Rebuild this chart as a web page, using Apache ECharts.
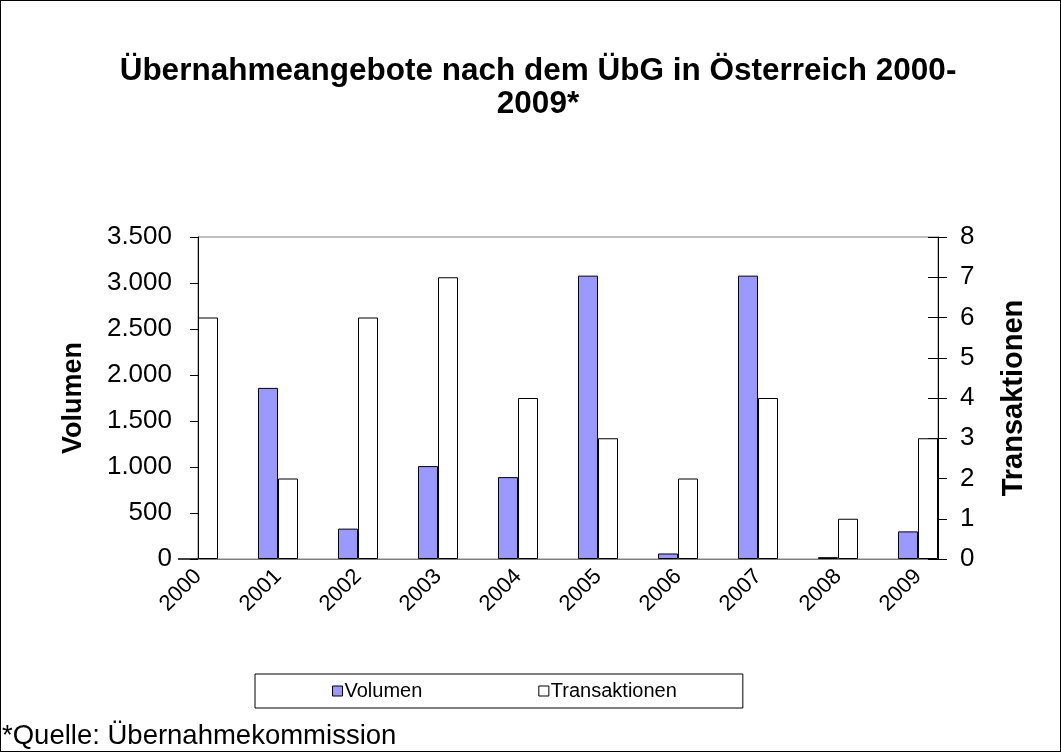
<!DOCTYPE html>
<html><head><meta charset="utf-8">
<script src="https://cdn.jsdelivr.net/npm/echarts@6/dist/echarts.min.js"></script>
<style>
html,body{margin:0;padding:0;background:#fff}
#wrap{position:relative;width:1061px;height:752px}
#c{width:1061px;height:752px}
#frame{position:absolute;left:0;top:0;width:1061px;height:752px;box-sizing:border-box;border:1px solid #000;pointer-events:none}
</style>
</head><body>
<div id="wrap"><div id="c"></div><div id="frame"></div></div>
<script>
const years = ['2000','2001','2002','2003','2004','2005','2006','2007','2008','2009'];
const volumen = [0, 1860, 330, 1010, 890, 3080, 60, 3080, 20, 300];
const transaktionen = [6, 2, 6, 7, 4, 3, 2, 4, 1, 3];
const titleText = 'Übernahmeangebote nach dem ÜbG in Österreich 2000-\n2009*';
const sourceText = '*Quelle: Übernahmekommission';
const seriesNames = ['Volumen', 'Transaktionen'];

const FONT = '"Liberation Sans", Arial, sans-serif';
const chart = echarts.init(document.getElementById('c'), null, {renderer: 'canvas'});

const xMin = Number(years[0]);
const xMax = Number(years[years.length - 1]) + 0.25;

function fmtThousands(v) {
  return String(v).replace(/\B(?=(\d{3})+(?!\d))/g, '.');
}

chart.setOption({
  animation: false,
  backgroundColor: '#fff',
  textStyle: {fontFamily: FONT},
  title: [
    {
      text: titleText, left: 538, top: 55, textAlign: 'center', padding: 0,
      textStyle: {fontFamily: FONT, fontSize: 31.5, fontWeight: 'bold', color: '#000', lineHeight: 33}
    },
    {
      text: sourceText, left: 2, top: 722, padding: 0,
      textStyle: {fontFamily: FONT, fontSize: 27.5, fontWeight: 'normal', color: '#000'}
    }
  ],
  legend: {
    left: 255, top: 674,
    borderColor: '#000', borderWidth: 1,
    padding: [7, 66, 7, 77],
    itemWidth: 10, itemHeight: 10, itemGap: 116,
    textStyle: {fontFamily: FONT, fontSize: 20, color: '#000', padding: [0, 0, 0, -3]},
    data: [
      {name: seriesNames[0], icon: 'rect', itemStyle: {color: '#9999ff', borderColor: '#000', borderWidth: 1}},
      {name: seriesNames[1], icon: 'rect', itemStyle: {color: '#fff', borderColor: '#000', borderWidth: 1}}
    ]
  },
  grid: {
    left: 198, right: 123, top: 237, bottom: 193,
    show: true, borderColor: '#808080', borderWidth: 1, backgroundColor: 'transparent'
  },
  xAxis: {
    type: 'value', min: xMin, max: xMax, interval: 1,
    axisLine: {show: true, lineStyle: {color: '#808080', width: 1}},
    axisTick: {show: false},
    splitLine: {show: false},
    axisLabel: {
      rotate: 45, margin: 14, fontSize: 22, color: '#000', fontFamily: FONT,
      showMinLabel: true, showMaxLabel: false,
      formatter: v => Number.isInteger(v) ? String(v) : ''
    }
  },
  yAxis: [
    {
      type: 'value', min: 0, max: 3500, interval: 500, position: 'left',
      name: seriesNames[0], nameLocation: 'middle', nameGap: 111, nameRotate: 90,
      nameTextStyle: {fontFamily: FONT, fontSize: 27, fontWeight: 'bold', color: '#000'},
      axisLine: {show: true, lineStyle: {color: '#000', width: 1}},
      axisTick: {show: true, inside: false, length: 8, lineStyle: {color: '#000'}},
      splitLine: {show: false},
      axisLabel: {margin: 26, fontSize: 26, color: '#000', fontFamily: FONT, formatter: fmtThousands}
    },
    {
      type: 'value', min: 0, max: 8, interval: 1, position: 'right',
      name: seriesNames[1], nameLocation: 'middle', nameGap: 61, nameRotate: 90,
      nameTextStyle: {fontFamily: FONT, fontSize: 29, fontWeight: 'bold', color: '#000'},
      axisLine: {show: true, lineStyle: {color: '#000', width: 1}},
      axisTick: {show: true, inside: false, length: 9, lineStyle: {color: '#000'}},
      splitLine: {show: false},
      axisLabel: {margin: 22, fontSize: 26, color: '#000', fontFamily: FONT}
    },
    {
      type: 'value', min: 0, max: 8, interval: 1, position: 'right',
      axisLine: {show: false},
      axisTick: {show: true, inside: true, length: 10, lineStyle: {color: '#000'}},
      splitLine: {show: false},
      axisLabel: {show: false}
    }
  ],
  series: [
    {
      name: seriesNames[0], type: 'bar', xAxisIndex: 0, yAxisIndex: 0,
      barWidth: 20, barGap: '0%',
      itemStyle: {color: '#9999ff', borderColor: '#000', borderWidth: 1},
      data: years.map((y, i) => [Number(y), volumen[i]])
    },
    {
      name: seriesNames[1], type: 'bar', xAxisIndex: 0, yAxisIndex: 1,
      barWidth: 20, barGap: '0%',
      itemStyle: {color: '#fff', borderColor: '#000', borderWidth: 1},
      data: years.map((y, i) => [Number(y), transaktionen[i]])
    }
  ]
});
</script>
</body></html>
